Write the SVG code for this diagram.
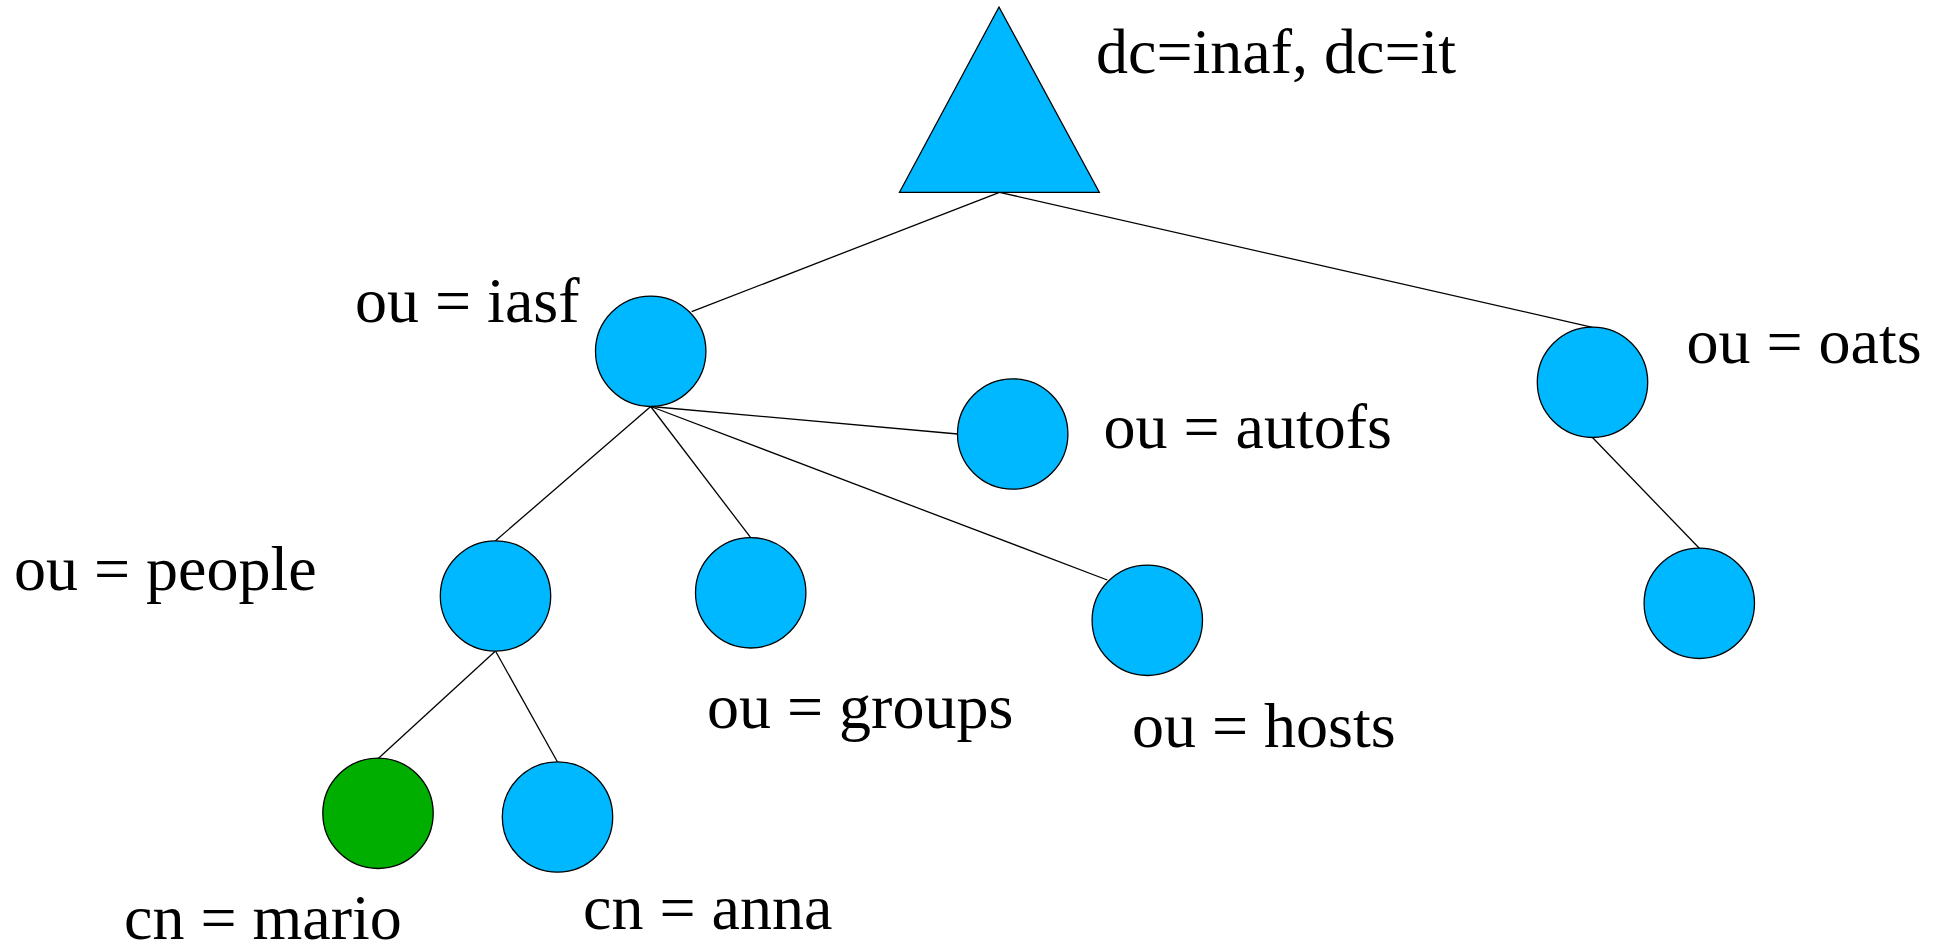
<svg xmlns="http://www.w3.org/2000/svg" width="1941" height="946" viewBox="0 0 1941 946">
<style>
.n{fill:#00B8FF;stroke:#000;stroke-width:1.3}
.g{fill:#00AE00;stroke:#000;stroke-width:1.3}
.e{stroke:#000;stroke-width:1.3;fill:none}
text{font-family:"Liberation Serif","Times New Roman",serif;font-size:64px;fill:#000}
</style>
<rect width="1941" height="946" fill="#fff"/>
<g id="connectors">
<line class="e" x1="999.5" y1="192.3" x2="691.7" y2="311.7"/>
<line class="e" x1="999.5" y1="192.3" x2="1592.5" y2="327.3"/>
<line class="e" x1="650.7" y1="406.5" x2="495.5" y2="540.8"/>
<line class="e" x1="650.7" y1="406.5" x2="750.7" y2="537.7"/>
<line class="e" x1="650.7" y1="406.5" x2="957.7" y2="434"/>
<line class="e" x1="650.7" y1="406.5" x2="1107.3" y2="580"/>
<line class="e" x1="1592.5" y1="437.5" x2="1699.3" y2="548.3"/>
<line class="e" x1="495.5" y1="651" x2="378.5" y2="758.3"/>
<line class="e" x1="495.5" y1="651" x2="557.5" y2="762"/>
</g>
<g id="root">
<polygon class="n" points="999,7 899.5,192.3 1099.3,192.3"/>
<text x="1096" y="73">dc=inaf, dc=it</text>
</g>
<g id="iasf">
<circle class="n" cx="650.7" cy="351.3" r="55.2"/>
<text x="355" y="322">ou = iasf</text>
</g>
<g id="autofs">
<circle class="n" cx="1012.7" cy="434" r="55.2"/>
<text x="1103.5" y="447.5">ou = autofs</text>
</g>
<g id="people">
<circle class="n" cx="495.5" cy="596" r="55.2"/>
<text x="14" y="590">ou = people</text>
</g>
<g id="groups">
<circle class="n" cx="750.7" cy="592.8" r="55.2"/>
<text x="707" y="728">ou = groups</text>
</g>
<g id="hosts">
<circle class="n" cx="1147.3" cy="620.3" r="55.2"/>
<text x="1132" y="746.5">ou = hosts</text>
</g>
<g id="oats">
<circle class="n" cx="1592.5" cy="382.3" r="55.2"/>
<text x="1686.5" y="363">ou = oats</text>
</g>
<g id="oats-child">
<circle class="n" cx="1699.3" cy="603.3" r="55.2"/>
</g>
<g id="mario">
<circle class="g" cx="378" cy="813.3" r="55.2"/>
<text x="124" y="939">cn = mario</text>
</g>
<g id="anna">
<circle class="n" cx="557.5" cy="817" r="55.2"/>
<text x="583" y="929">cn = anna</text>
</g>
</svg>
